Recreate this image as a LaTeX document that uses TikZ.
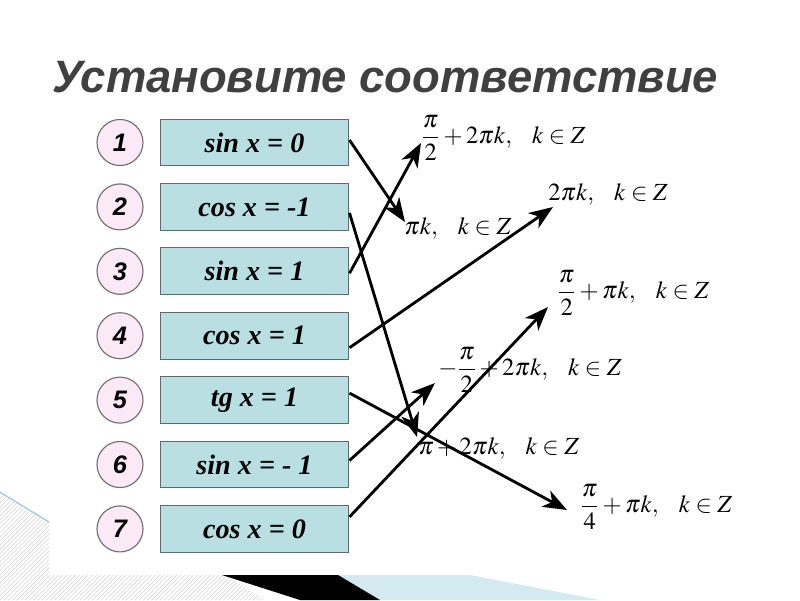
\documentclass[tikz,border=0pt]{standalone}
\usepackage{amsmath}
\usepackage{mathptmx}
\usepackage{fontspec}
\setmainfont{Liberation Serif}
\newfontfamily\titlefont{Liberation Sans}
\usepackage{xcolor}
\usetikzlibrary{arrows.meta,calc,patterns}
\definecolor{titlegray}{HTML}{404040}
\definecolor{boxfill}{HTML}{B9DFE3}
\definecolor{boxline}{HTML}{5E6B6C}
\definecolor{numfill}{HTML}{FCE9F8}
\definecolor{numline}{HTML}{6E6E6E}
\definecolor{decoblue}{HTML}{D3EAF0}
\definecolor{decoline}{HTML}{9CC5D6}
\newcommand{\gap}{\hspace{0.7em}}

\begin{document}
\begin{tikzpicture}[x=0.025cm,y=-0.025cm,
  numcirc/.style={circle,draw=numline,fill=numfill,line width=0.8pt,minimum size=1.15cm,inner sep=0pt,font=\titlefont\bfseries\itshape\fontsize{18}{20}\selectfont},
  eqbox/.style={draw=boxline,fill=boxfill,line width=0.8pt,minimum width=4.72cm,minimum height=1.17cm,inner sep=0pt,font=\bfseries\itshape\fontsize{20}{22}\selectfont},
  answer/.style={anchor=west,inner sep=0pt,font=\fontsize{17.5}{20}\selectfont},
  match/.style={line width=2pt,-{Stealth[length=17pt,width=13pt,inset=5pt]}}]
	\useasboundingbox (0,0) rectangle (800,600);
	% slide decoration at the bottom
	\fill[pattern=north east lines,pattern color=gray!35] (0,492) -- (49,522) -- (49,575) -- (225,575) -- (265,600) -- (0,600) -- cycle;
	\draw[decoline,line width=0.8pt] (0,492) -- (49,522);
	\fill[decoblue] (338,575) -- (470,575) -- (600,600) -- (380,600) -- cycle;
	\fill[black] (222,575) -- (338,575) -- (380,600) -- (300,600) -- cycle;
	\node[anchor=base west,inner sep=0pt,text=titlegray,font=\titlefont\bfseries\itshape\fontsize{32.3}{38}\selectfont] (title) at (52,92) {Установите соответствие};
	% left column
	\node[numcirc] (n1) at (120,142.5) {1};
	\node[eqbox] (e1) at (254.5,142.5) {sin x = 0};
	\node[numcirc] (n2) at (120,206.9) {2};
	\node[eqbox] (e2) at (254.5,206.9) {cos x = -1};
	\node[numcirc] (n3) at (120,271.3) {3};
	\node[eqbox] (e3) at (254.5,271.3) {sin x = 1};
	\node[numcirc] (n4) at (120,335.7) {4};
	\node[eqbox] (e4) at (254.5,335.7) {cos x = 1};
	\node[numcirc] (n5) at (120,400.1) {5};
	\node[eqbox] (e5) at (254.5,400.1) {tg x = 1};
	\node[numcirc] (n6) at (120,464.5) {6};
	\node[eqbox] (e6) at (254.5,464.5) {sin x = - 1};
	\node[numcirc] (n7) at (120,528.9) {7};
	\node[eqbox] (e7) at (254.5,528.9) {cos x = 0};
	% right column
	\node[answer] (aA) at (421,138) {$\dfrac{\pi}{2}+2\pi k,\gap k\in Z$};
	\node[answer] (aB) at (548,194) {$2\pi k,\gap k\in Z$};
	\node[answer] (aC) at (404,228) {$\pi k,\gap k\in Z$};
	\node[answer] (aD) at (557,293) {$\dfrac{\pi}{2}+\pi k,\gap k\in Z$};
	\node[answer] (aE) at (438,370) {$-\dfrac{\pi}{2}+2\pi k,\gap k\in Z$};
	\node[answer] (aF) at (418,448) {$\pi+2\pi k,\gap k\in Z$};
	\node[answer] (aG) at (580,507) {$\dfrac{\pi}{4}+\pi k,\gap k\in Z$};
	% matching arrows
	\draw[match] ($(e1.east)+(0,-2.5)$) -- ($(aC.west)+(1,-6)$);
	\draw[match] ($(e2.east)+(0,6)$) -- ($(aF.west)+(-1,-11)$);
	\draw[match] ($(e3.east)+(0,2)$) -- ($(aA.west)+(0,5)$);
	\draw[match] ($(e4.east)+(0,12)$) -- ($(aB.west)+(5,13)$);
	\draw[match] ($(e5.east)+(0,-7)$) -- ($(aG.west)+(-13,3)$);
	\draw[match] ($(e6.east)+(0,-4)$) -- ($(aE.west)+(-3,13)$);
	\draw[match] ($(e7.east)+(0,-12)$) -- ($(aD.west)+(-9,14)$);
\end{tikzpicture}
\end{document}
